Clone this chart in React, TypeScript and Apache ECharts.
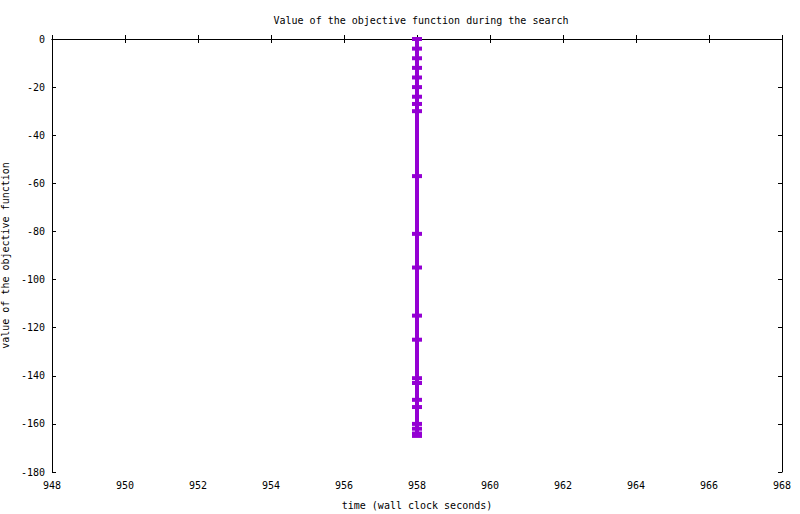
import React, { useEffect, useRef } from "react";
import * as echarts from "echarts";

const TITLE = "Value of the objective function during the search";
const X_NAME = "time (wall clock seconds)";
const Y_NAME = "value of the objective function";

const timeValues = [958, 958, 958, 958, 958, 958, 958, 958, 958, 958, 958, 958, 958, 958, 958, 958, 958, 958, 958, 958, 958, 958];
const objectiveValues = [0, -4, -8, -12, -16, -20, -24, -27, -30, -57, -81, -95, -115, -125, -141, -143, -150, -153, -160, -162, -164, -165];

const FONT = "'DejaVu Sans Mono', monospace";

export default function App() {
  const ref = useRef<HTMLDivElement>(null);
  useEffect(() => {
    const chart = echarts.init(ref.current!, null, { renderer: "svg" });
    const data = timeValues.map((t, i) => [t, objectiveValues[i]]);
    const axisCommon = {
      axisLine: { lineStyle: { color: "#000", width: 1 } },
      axisTick: { inside: true, length: 4, lineStyle: { color: "#000" } },
      splitLine: { show: false },
    };
    chart.setOption({
      animation: false,
      backgroundColor: "#fff",
      textStyle: { fontFamily: FONT },
      title: {
        text: TITLE,
        left: 416,
        top: 10,
        textAlign: "center",
        textStyle: { fontFamily: FONT, fontSize: 10, fontWeight: "normal", color: "#000" },
      },
      grid: { left: 52, right: 18, top: 39, bottom: 42, containLabel: false, outerBoundsMode: "none" },
      xAxis: [
        {
          type: "value",
          min: 948,
          max: 968,
          interval: 2,
          position: "bottom",
          name: X_NAME,
          nameLocation: "middle",
          nameGap: 28,
          nameTextStyle: { fontFamily: FONT, fontSize: 10, color: "#000" },
          axisLabel: { fontFamily: FONT, fontSize: 10, color: "#000", margin: 8 },
          ...axisCommon,
        },
        {
          type: "value",
          min: 948,
          max: 968,
          interval: 2,
          position: "top",
          axisLabel: { show: false },
          ...axisCommon,
        },
      ],
      yAxis: [
        {
          type: "value",
          min: -180,
          max: 0,
          interval: 20,
          position: "left",
          name: Y_NAME,
          nameLocation: "middle",
          nameGap: 36,
          nameTextStyle: { fontFamily: FONT, fontSize: 10, color: "#000" },
          axisLabel: { fontFamily: FONT, fontSize: 10, color: "#000", margin: 7 },
          ...axisCommon,
        },
        {
          type: "value",
          min: -180,
          max: 0,
          interval: 20,
          position: "right",
          axisLabel: { show: false },
          ...axisCommon,
        },
      ],
      series: [
        {
          type: "line",
          data,
          xAxisIndex: 0,
          yAxisIndex: 0,
          symbol: "rect",
          symbolSize: [10, 4],
          showAllSymbol: true,
          lineStyle: { color: "#9400d3", width: 4 },
          itemStyle: { color: "#9400d3", borderWidth: 0 },
          emphasis: { disabled: true },
        },
      ],
    });
    return () => chart.dispose();
  }, []);
  return <div ref={ref} style={{ position: "fixed", left: 0, top: 0, width: 800, height: 514 }} />;
}
